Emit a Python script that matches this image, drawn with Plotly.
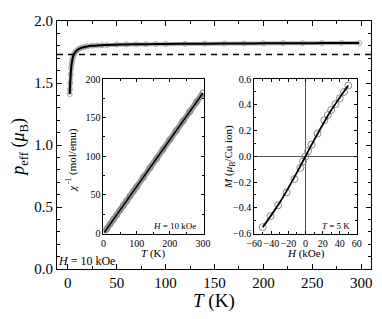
import plotly.graph_objects as go

# ---- main panel: p_eff vs T ----
T_main = [2.0, 2.2, 2.5, 3.0, 3.5, 4.0, 4.5, 5, 6, 7, 8, 9, 10, 12, 14, 16, 18, 20, 25, 30,
          35, 40, 50, 60, 70, 80, 90, 100, 120, 140, 160, 180, 200, 220, 240, 260, 280, 298]
p_main = [1.41, 1.45, 1.50, 1.57, 1.62, 1.655, 1.68, 1.70, 1.725, 1.74, 1.752, 1.76, 1.767,
          1.777, 1.784, 1.789, 1.792, 1.795, 1.80, 1.803, 1.805, 1.807, 1.809, 1.811, 1.812,
          1.813, 1.814, 1.815, 1.816, 1.817, 1.818, 1.819, 1.82, 1.821, 1.821, 1.822, 1.823, 1.823]
p_ref = 1.73
main_xticks = [0, 50, 100, 150, 200, 250, 300]
main_yticks = [0.0, 0.5, 1.0, 1.5, 2.0]

# ---- inset 1: inverse susceptibility vs T ----
T_chi = [2, 10, 20, 30, 40, 50, 60, 70, 80, 90, 100, 120, 140, 160, 180, 200, 220, 240, 260, 280, 300]
chi_inv = [1.2, 6.0, 12.1, 18.2, 24.2, 30.3, 36.4, 42.4, 48.5, 54.5, 60.6, 72.7, 84.9, 97.0,
           109.2, 121.4, 133.5, 145.6, 157.8, 170.0, 182.0]

# ---- inset 2: M vs H at 5 K ----
H_pts = [-50, -41, -32, -22, -13, -6, -3, 0, 3, 7, 14, 22, 26, 30, 35, 40, 45, 50]
M_pts = [-0.55, -0.465, -0.38, -0.28, -0.177, -0.09, -0.04, 0.0, 0.04, 0.09, 0.177, 0.28,
         0.32, 0.36, 0.405, 0.45, 0.50, 0.55]
H_fit = [-50, -40, -30, -20, -10, 0, 10, 20, 30, 40, 50]
M_fit = [-0.55, -0.457, -0.357, -0.245, -0.125, 0.0, 0.125, 0.245, 0.357, 0.457, 0.55]

FONT = "Liberation Serif"
fig = go.Figure()

# main
fig.add_trace(go.Scatter(x=T_main, y=p_main, mode="lines+markers",
                         line=dict(color="#b0b0b0", width=4),
                         marker=dict(symbol="circle-open", size=5, color="#a8a8a8", line=dict(width=1)),
                         xaxis="x", yaxis="y", showlegend=False))
fig.add_trace(go.Scatter(x=T_main, y=p_main, mode="lines", line=dict(color="black", width=2, shape="spline"),
                         xaxis="x", yaxis="y", showlegend=False))
fig.add_trace(go.Scatter(x=[-11, 310], y=[p_ref, p_ref], mode="lines",
                         line=dict(color="black", width=1.5, dash="6px,5px"),
                         xaxis="x", yaxis="y", showlegend=False))

# inset 1
fig.add_trace(go.Scatter(x=T_chi, y=chi_inv, mode="lines+markers",
                         line=dict(color="#9a9a9a", width=6),
                         marker=dict(symbol="circle-open", size=6, color="#888888", line=dict(width=1)),
                         xaxis="x2", yaxis="y2", showlegend=False))
fig.add_trace(go.Scatter(x=T_chi, y=chi_inv, mode="lines", line=dict(color="black", width=1.5),
                         xaxis="x2", yaxis="y2", showlegend=False))

# inset 2
fig.add_trace(go.Scatter(x=H_pts, y=M_pts, mode="markers",
                         marker=dict(symbol="circle-open", size=7, color="#8a8a8a", line=dict(width=1)),
                         xaxis="x3", yaxis="y3", showlegend=False))
fig.add_trace(go.Scatter(x=H_fit, y=M_fit, mode="lines", line=dict(color="black", width=1.8, shape="spline"),
                         xaxis="x3", yaxis="y3", showlegend=False))

ax_common = dict(showline=True, linecolor="black", linewidth=1, mirror="allticks",
                 ticks="inside", tickcolor="black", showgrid=False, zeroline=False)

# page body has an 8px margin, so the figure is drawn 8px right/down
fig.update_layout(
    width=374, height=311,
    margin=dict(l=49, r=5, t=9, b=50),
    paper_bgcolor="white", plot_bgcolor="white",
    font=dict(family=FONT, color="black"),
    xaxis=dict(**ax_common, range=[-11, 310], tickvals=main_xticks, ticklen=5, tickwidth=1,
               tickfont=dict(size=15, family=FONT), tickangle=0,
               minor=dict(dtick=25, tick0=0, ticklen=3, ticks="inside", tickcolor="black"),
               domain=[0, 1]),
    yaxis=dict(**ax_common, range=[0, 2], tickvals=main_yticks, tickformat=".1f", ticklen=5,
               tickfont=dict(size=15, family=FONT),
               minor=dict(dtick=0.1, tick0=0, ticklen=3, ticks="inside", tickcolor="black"),
               domain=[0, 1]),
    xaxis2=dict(**ax_common, anchor="y2", domain=[0.148, 0.468], range=[0, 303],
                tickvals=[0, 100, 200, 300], ticklen=3, tickfont=dict(size=10, family=FONT), tickangle=0,
                minor=dict(dtick=50, ticklen=2, ticks="inside", tickcolor="black")),
    yaxis2=dict(**ax_common, anchor="x2", domain=[0.143, 0.766], range=[0, 200],
                tickvals=[0, 50, 100, 150, 200], ticklen=3, tickfont=dict(size=10, family=FONT),
                minor=dict(dtick=25, ticklen=2, ticks="inside", tickcolor="black")),
    xaxis3=dict(showline=True, linecolor="black", linewidth=1, mirror="allticks",
                ticks="inside", tickcolor="black", showgrid=False,
                zeroline=True, zerolinecolor="#555555", zerolinewidth=1,
                anchor="y3", domain=[0.628, 0.955], range=[-60, 60],
                tickvals=[-60, -40, -20, 0, 20, 40, 60], ticklen=3, tickangle=0,
                tickfont=dict(size=10, family=FONT),
                minor=dict(dtick=10, ticklen=2, ticks="inside", tickcolor="black")),
    yaxis3=dict(showline=True, linecolor="black", linewidth=1, mirror="allticks",
                ticks="inside", tickcolor="black", showgrid=False,
                zeroline=True, zerolinecolor="#555555", zerolinewidth=1,
                anchor="x3", domain=[0.143, 0.766], range=[-0.6, 0.6],
                tickvals=[-0.6, -0.4, -0.2, 0.0, 0.2, 0.4, 0.6], tickformat=".1f",
                ticklen=3, tickfont=dict(size=10, family=FONT),
                minor=dict(dtick=0.1, ticklen=2, ticks="inside", tickcolor="black")),
)

# annotation positions given in screen pixels of the target (plot area 57..369 x 17..269)
ann = [
    dict(text="<i>T</i> (K)", x=213, y=302, size=19),
    dict(text="<i>p</i><sub>eff</sub> (<i>μ</i><sub>B</sub>)", x=20, y=145, size=18, angle=-90),
    dict(text="<i>H</i> = 10 kOe", x=86, y=261, size=12),
    dict(text="<i>T</i> (K)", x=152, y=253, size=11),
    dict(text="<i>χ</i><sup> -1</sup> (mol/emu)", x=72, y=158, size=11, angle=-90),
    dict(text="<i>H</i> = 10 kOe", x=174, y=225, size=9),
    dict(text="<i>H</i> (kOe)", x=304, y=253, size=11),
    dict(text="<i>M</i> (<i>μ</i><sub>B</sub>/Cu ion)", x=228, y=155, size=11, angle=-90),
    dict(text="<i>T</i> = 5 K", x=334, y=225, size=9),
]
for a in ann:
    fig.add_annotation(text=a["text"], xref="paper", yref="paper",
                       x=(a["x"] - 57) / 312, y=(269 - a["y"]) / 252,
                       xanchor="center", yanchor="middle", showarrow=False,
                       textangle=a.get("angle", 0),
                       font=dict(family=FONT, color="black", size=a["size"]))

fig.write_html("out.html")
